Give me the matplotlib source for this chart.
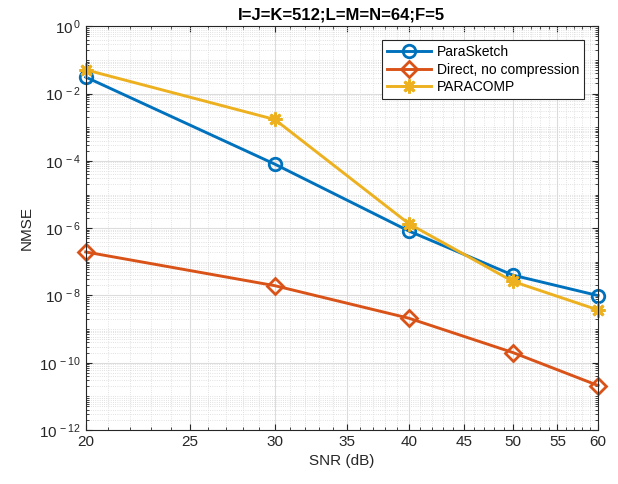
import numpy as np
import matplotlib.pyplot as plt
from matplotlib.ticker import FixedLocator, NullFormatter, LogLocator

plt.rcParams['font.family'] = ['Liberation Sans', 'DejaVu Sans']
plt.rcParams['mathtext.fontset'] = 'custom'
plt.rcParams['mathtext.rm'] = 'Liberation Sans'
plt.rcParams['mathtext.it'] = 'Liberation Sans'

# dane
snr = [20, 30, 40, 50, 60]
parasketch = [3.1e-2, 8.0e-5, 8.2e-7, 4.0e-8, 9.9e-9]
direct = [1.96e-7, 1.95e-8, 2.1e-9, 2.0e-10, 2.1e-11]
paracomp = [5.1e-2, 1.7e-3, 1.35e-6, 2.6e-8, 3.7e-9]
xticks = [20, 25, 30, 35, 40, 45, 50, 55, 60]

fig = plt.figure(figsize=(6.18, 4.84), dpi=100)
ax = fig.add_axes([0.1387, 0.1116, 0.829, 0.834])

ax.plot(snr, parasketch, '-o', color='#0072BD', lw=2.1, ms=9, mew=2, mfc='none',
        label='ParaSketch', clip_on=False)
ax.plot(snr, direct, '-D', color='#D95319', lw=2.1, ms=8, mew=2, mfc='none',
        label='Direct, no compression', clip_on=False)
ax.plot(snr, paracomp, '-', marker=(8, 2, 0), color='#EDB120', lw=2.1, ms=10, mew=2,
        label='PARACOMP', clip_on=False)

ax.set_xscale('log')
ax.set_yscale('log')
ax.set_xlim(20, 60)
ax.set_ylim(1e-12, 1e0)

ax.xaxis.set_major_locator(FixedLocator(xticks))
ax.xaxis.set_minor_locator(FixedLocator([v for v in range(21, 60) if v % 5 != 0]))
ax.xaxis.set_minor_formatter(NullFormatter())
ax.set_xticklabels([str(v) for v in xticks])
ax.yaxis.set_major_locator(FixedLocator([10.0**k for k in range(-12, 1, 2)]))
ax.set_yticklabels([r'$10^{\,%d}$' % k for k in range(-12, 1, 2)])
ax.yaxis.set_minor_locator(LogLocator(base=10, subs=np.arange(1, 10), numticks=50))
ax.yaxis.set_minor_formatter(NullFormatter())

ax.grid(True, which='major', color='#dcdcdc', lw=0.8)
ax.grid(True, which='minor', color='#d8d8d8', lw=0.6, ls=':')
ax.set_axisbelow(True)

ax.tick_params(which='both', direction='in', top=True, right=True, colors='#262626', labelsize=11)
ax.tick_params(which='major', length=4)
ax.tick_params(which='minor', length=2)
for s in ax.spines.values():
    s.set_color('#262626')
    s.set_linewidth(0.8)

ax.set_xlabel('SNR (dB)', fontsize=11, color='#262626')
ax.set_ylabel('NMSE', fontsize=11, color='#262626')
ax.set_title('I=J=K=512;L=M=N=64;F=5', fontsize=12, fontweight='bold', pad=5)

leg = ax.legend(loc='upper right', fontsize=10, fancybox=False, edgecolor='#262626',
                framealpha=1, borderaxespad=1.0, handlelength=3.2, labelspacing=0.25,
                borderpad=0.35, handletextpad=0.4)
leg.get_frame().set_linewidth(0.8)

fig.savefig('out.png', dpi=100)
